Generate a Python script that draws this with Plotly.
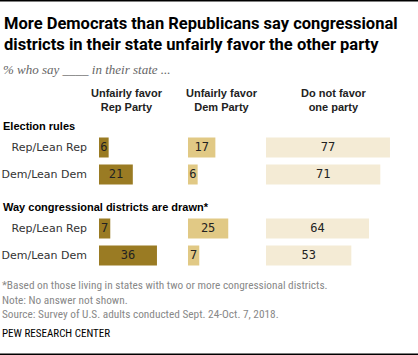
import plotly.graph_objects as go

# ---- data ----
groups = ["Election rules", "Way congressional districts are drawn*"]
row_labels = ["Rep/Lean Rep", "Dem/Lean Dem"]
col_headers = ["Unfairly favor<br>Rep Party", "Unfairly favor<br>Dem Party", "Do not favor<br>one party"]
favor_rep = [6, 21, 7, 36]
favor_dem = [17, 6, 25, 7]
no_favor = [77, 71, 64, 53]
series = [favor_rep, favor_dem, no_favor]
colors = ["#9a7b23", "#e1c985", "#f4ebd5"]

title = "More Democrats than Republicans say congressional<br>districts in their state unfairly favor the other party"
subtitle = "% who say ____ in their state ..."
footer = ("*Based on those living in states with two or more congressional districts.<br>"
          "Note: No answer not shown.<br>"
          "Source: Survey of U.S. adults conducted Sept. 24-Oct. 7, 2018.")
credit = "PEW RESEARCH CENTER"

# ---- layout helpers (pixels) ----
W, H = 418, 355
def px(x): return x / W
def py(y): return 1 - y / H

col_left = [99, 188, 266]
col_right = [188, 266, 418]
scale = 1.61  # px per percentage point
row_step = 27.0
first_row_center = 147.5

positions = []
ticktext = []
for gi, g in enumerate(groups):
    for ri, r in enumerate(row_labels):
        positions.append(gi * 3 + ri)
        ticktext.append(r)

y_top = first_row_center - row_step / 2
y_bot = first_row_center + (max(positions) + 0.5) * row_step

fig = go.Figure()
axis_names = ["x", "x2", "x3"]
num_font = dict(family="DejaVu Sans Mono, monospace", size=12, color="#222")
for ci, vals in enumerate(series):
    fig.add_trace(go.Bar(
        x=vals, y=positions, orientation="h", width=20 / row_step,
        marker=dict(color=colors[ci], line=dict(width=0)),
        xaxis=axis_names[ci], yaxis="y", hoverinfo="skip", showlegend=False))
    fig.add_trace(go.Scatter(
        x=[v / 2 for v in vals], y=positions, mode="text",
        text=[str(v) for v in vals], textposition="middle center",
        textfont=num_font, xaxis=axis_names[ci], yaxis="y",
        hoverinfo="skip", showlegend=False, cliponaxis=False))

layout = dict(
    width=W, height=H, autosize=False,
    margin=dict(l=0, r=0, t=0, b=0, pad=0),
    paper_bgcolor="white", plot_bgcolor="rgba(0,0,0,0)",
    showlegend=False,
    yaxis=dict(domain=[py(y_bot), py(y_top)], range=[max(positions) + 0.5, -0.5],
               tickvals=positions, ticktext=ticktext, showgrid=False, zeroline=False,
               showline=False, ticks="", anchor="x", ticklabelstandoff=11,
               tickfont=dict(family="DejaVu Sans, sans-serif", size=11, color="#333"),
               fixedrange=True),
)
for ci, name in enumerate(axis_names):
    key = "xaxis" if ci == 0 else "xaxis%d" % (ci + 1)
    layout[key] = dict(domain=[px(col_left[ci]), px(col_right[ci])],
                       range=[0, (col_right[ci] - col_left[ci]) / scale],
                       showgrid=False, zeroline=False, showline=False,
                       showticklabels=False, ticks="", anchor="y", fixedrange=True)
fig.update_layout(**layout)

ann = []
ann.append(dict(text="<b>" + title.replace("<br>", "</b><br><b>") + "</b>", x=px(2), y=py(34),
                xref="paper", yref="paper", xanchor="left", yanchor="middle", align="left",
                showarrow=False, font=dict(family="Roboto, Liberation Sans, sans-serif", size=16.5, color="#000")))
ann.append(dict(text="<i>" + subtitle + "</i>", x=px(1), y=py(70), xref="paper", yref="paper",
                xanchor="left", yanchor="middle", showarrow=False,
                font=dict(family="Liberation Serif, serif", size=13, color="#666")))
head_centers = [127, 222, 333]
for ci, h in enumerate(col_headers):
    ann.append(dict(text="<b>" + h.replace("<br>", "</b><br><b>") + "</b>", x=px(head_centers[ci]), y=py(100),
                    xref="paper", yref="paper", xanchor="center", yanchor="middle", align="center",
                    showarrow=False, font=dict(family="Liberation Sans, Arial, sans-serif", size=11, color="#222")))
group_y = [126.5, 207]
for gi, g in enumerate(groups):
    ann.append(dict(text="<b>" + g + "</b>", x=px(1), y=py(group_y[gi]), xref="paper", yref="paper",
                    xanchor="left", yanchor="middle", showarrow=False,
                    font=dict(family="Liberation Sans, Arial, sans-serif", size=11, color="#000")))
ann.append(dict(text=footer, x=px(0), y=py(300), xref="paper", yref="paper", xanchor="left",
                yanchor="middle", align="left", showarrow=False,
                font=dict(family="Liberation Sans Narrow, Arial Narrow, Roboto Condensed, sans-serif", size=11.3, color="#888")))
ann.append(dict(text=credit, x=px(0), y=py(333), xref="paper", yref="paper", xanchor="left",
                yanchor="middle", showarrow=False,
                font=dict(family="Liberation Sans Narrow, Arial Narrow, Roboto Condensed, sans-serif", size=11, color="#000")))
fig.update_layout(annotations=ann)

fig.add_shape(type="line", xref="paper", yref="paper", x0=0, x1=1, y0=py(0.7), y1=py(0.7),
              line=dict(color="#000", width=1.5))
fig.add_shape(type="line", xref="paper", yref="paper", x0=0, x1=1, y0=py(354.3), y1=py(354.3),
              line=dict(color="#000", width=1.5))

fig.write_html("out.html", config=dict(displayModeBar=False, staticPlot=True),
               post_script="document.body.style.margin='0';document.body.style.overflow='hidden';")
